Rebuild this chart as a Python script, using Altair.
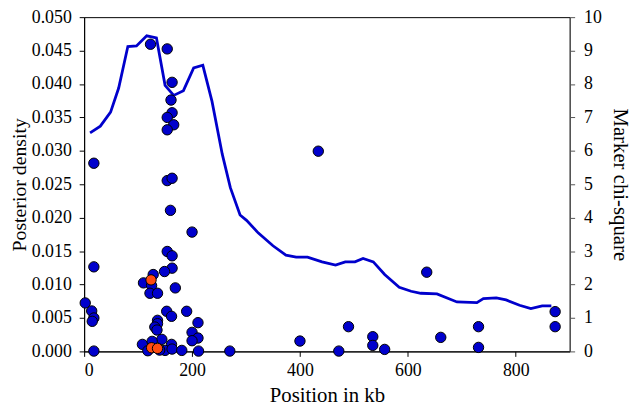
import altair as alt
import pandas as pd

# Posterior density curve
line_pos = [11, 30, 49, 64, 81, 97, 116, 134, 150, 166, 184, 203, 220, 237, 256, 271,
            289, 301, 323, 350, 374, 393, 414, 441, 466, 484, 502, 517, 536, 557, 584,
            606, 624, 654, 691, 728, 740, 764, 782, 807, 828, 849, 866]
line_density = [0.0327, 0.0337, 0.0358, 0.0394, 0.0456, 0.0457, 0.0472, 0.0469, 0.0398,
                0.0383, 0.0390, 0.0424, 0.0428, 0.0374, 0.0295, 0.0245, 0.0204, 0.0196,
                0.0177, 0.0158, 0.0144, 0.0141, 0.0141, 0.0134, 0.0129, 0.0134, 0.0134,
                0.0139, 0.0134, 0.0115, 0.0096, 0.0090, 0.0087, 0.0086, 0.0074, 0.0073,
                0.0079, 0.0080, 0.0077, 0.0069, 0.0064, 0.0068, 0.0068]

# Marker chi-square points
marker_pos = [123, 154, 163, 161, 163, 154, 166, 154, 18, 154, 163, 160, 200, 18, 154,
              163, 163, 149, 128, 110, 125, 169, 122, 136, 2, 14, 18, 15, 153, 162, 190,
              136, 136, 131, 135, 211, 200, 211, 200, 144, 108, 126, 162, 150, 163, 18,
              181, 212, 270, 118, 140,
              434, 635, 873, 873, 490, 731, 400, 535, 535, 557, 661, 731, 472,
              124, 125, 136]
marker_chi = [9.19, 9.05, 8.05, 7.52, 7.14, 7.00, 6.78, 6.63, 5.63, 5.11, 5.18, 4.22, 3.57,
              2.53, 2.99, 2.86, 2.49, 2.39, 2.30, 2.05, 1.97, 1.90, 1.74, 1.74, 1.45, 1.21,
              1.00, 0.90, 1.20, 1.05, 1.20, 0.93, 0.83, 0.73, 0.64, 0.86, 0.57, 0.40, 0.32,
              0.36, 0.21, 0.30, 0.21, 0.03, 0.07, 0.01, 0.03, 0.01, 0.01, 0.02, 0.04,
              5.99, 2.37, 1.19, 0.74, 0.74, 0.74, 0.31, 0.44, 0.18, 0.06, 0.42, 0.12, 0.01,
              2.14, 0.11, 0.09]
marker_group = ["other"] * 64 + ["highlight"] * 3

density_ticks = [0.0, 0.005, 0.01, 0.015, 0.02, 0.025, 0.03, 0.035, 0.04, 0.045, 0.05]
chi_ticks = [0, 1, 2, 3, 4, 5, 6, 7, 8, 9, 10]
x_ticks = [0, 200, 400, 600, 800]

line_df = pd.DataFrame({"pos": line_pos, "density": line_density})
pts_df = pd.DataFrame({"pos": marker_pos, "chi": marker_chi, "group": marker_group})

font = "Liberation Serif"

common = dict(labelFont=font, titleFont=font, labelFontSize=18,
              titleFontWeight="normal", labelColor="black", titleColor="black",
              tickSize=5, grid=False)

x_enc = alt.X("pos:Q", scale=alt.Scale(domain=[0, 900], nice=False, zero=False),
              axis=alt.Axis(values=x_ticks, title="Position in kb", titleFontSize=21,
                            labelPadding=5, titlePadding=6, **common))

line = alt.Chart(line_df).mark_line(color="#0000cc", strokeWidth=2.8).encode(
    x=x_enc,
    y=alt.Y("density:Q", scale=alt.Scale(domain=[0, 0.05], nice=False),
            axis=alt.Axis(values=density_ticks, format=".3f", title="Posterior density",
                          titleFontSize=20, orient="left", labelPadding=8,
                          titlePadding=2, **common)),
)

points = alt.Chart(pts_df).mark_point(filled=True, size=110, stroke="black",
                                      strokeWidth=1, opacity=1).encode(
    x=alt.X("pos:Q", scale=alt.Scale(domain=[0, 900], nice=False, zero=False)),
    y=alt.Y("chi:Q", scale=alt.Scale(domain=[0, 10], nice=False),
            axis=alt.Axis(values=chi_ticks, title="Marker chi-square", orient="right",
                          titleFontSize=21, labelPadding=9, titlePadding=8,
                          domainColor="#555555", tickColor="#555555", **common)),
    fill=alt.Fill("group:N", scale=alt.Scale(domain=["other", "highlight"],
                                             range=["#0000cc", "#ff4a10"]), legend=None),
    order=alt.Order("group:N", sort="descending"),
)

chart = alt.layer(line, points).resolve_scale(y="independent").properties(
    width=491, height=338,
    autosize=alt.AutoSizeParams(type="none"),
    padding={"left": 77, "top": 7, "right": 63, "bottom": 58},
).configure_view(stroke="black", strokeWidth=1).configure_axis(
    domainColor="black", tickColor="black", domainWidth=1, tickWidth=1,
)

chart.save("out.html", embed_options={"renderer": "svg", "actions": False})
